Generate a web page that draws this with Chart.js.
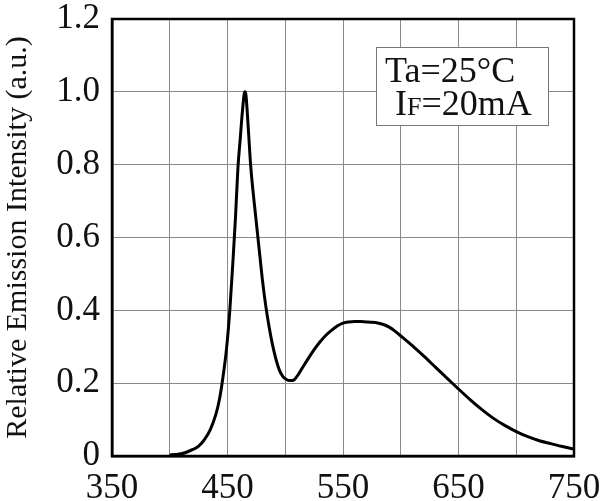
<!DOCTYPE html>
<html>
<head>
<meta charset="utf-8">
<script src="https://cdn.jsdelivr.net/npm/chart.js@4"></script>
<style>
  html, body { margin: 0; padding: 0; background: #fff; }
  #wrap { width: 606px; height: 501px; }
</style>
</head>
<body>
<div id="wrap"><canvas id="spectrum"></canvas></div>
<script>
// wavelength (nm) and relative intensity
const wavelengths = [400, 405, 410, 415, 420, 425, 430, 435, 440, 443, 446, 449, 452, 455, 457, 459, 461, 463, 465, 466, 468, 470, 472, 474, 476, 478, 480, 483, 486, 489, 492, 495, 498, 501, 504, 507, 510, 515, 520, 525, 530, 535, 540, 545, 550, 555, 560, 565, 570, 575, 580, 585, 590, 595, 600, 610, 620, 630, 640, 650, 660, 670, 680, 690, 700, 710, 720, 730, 740, 750];
const intensity = [0.003, 0.004, 0.006, 0.011, 0.018, 0.027, 0.045, 0.072, 0.115, 0.155, 0.215, 0.29, 0.40, 0.55, 0.66, 0.79, 0.87, 0.95, 1.0, 0.99, 0.9, 0.8, 0.73, 0.67, 0.61, 0.55, 0.49, 0.415, 0.355, 0.305, 0.265, 0.235, 0.218, 0.21, 0.207, 0.208, 0.218, 0.243, 0.268, 0.292, 0.313, 0.331, 0.345, 0.357, 0.365, 0.368, 0.369, 0.369, 0.368, 0.367, 0.365, 0.361, 0.354, 0.343, 0.33, 0.303, 0.274, 0.244, 0.214, 0.184, 0.155, 0.128, 0.104, 0.084, 0.067, 0.053, 0.042, 0.034, 0.026, 0.019];
const xTickLabels = [350, 450, 550, 650, 750];
const yTickLabels = ['0', '0.2', '0.4', '0.6', '0.8', '1.0', '1.2'];
const noteLines = ['Ta=25°C', 'IF=20mA'];

const serif = '"Liberation Serif", "DejaVu Serif", serif';

// frame round the plot and the condition box in the upper right
const framePlugin = {
    id: 'frame',
    afterDraw(chart) {
        const ctx = chart.ctx;
        const a = chart.chartArea;
        ctx.save();
        ctx.strokeStyle = '#000';
        ctx.lineWidth = 2.5;
        ctx.strokeRect(a.left, a.top, a.right - a.left, a.bottom - a.top);

        // condition box
        const bx = 376, by = 47, bw = 172, bh = 78;
        ctx.fillStyle = '#fff';
        ctx.fillRect(bx, by, bw, bh);
        ctx.strokeStyle = '#777';
        ctx.lineWidth = 1;
        ctx.strokeRect(bx + 0.5, by + 0.5, bw, bh);

        ctx.fillStyle = '#111';
        ctx.textBaseline = 'alphabetic';
        ctx.font = '36px ' + serif;
        ctx.fillText(noteLines[0], bx + 9, by + 35);
        // "I" normal size, "F" small, then the rest
        let x = bx + 19;
        const base = by + 68;
        ctx.fillText('I', x, base);
        x += ctx.measureText('I').width;
        ctx.font = '26px ' + serif;
        ctx.fillText('F', x, base);
        x += ctx.measureText('F').width;
        ctx.font = '36px ' + serif;
        ctx.fillText(noteLines[1].slice(2), x, base);
        ctx.restore();
    }
};

new Chart(document.getElementById('spectrum'), {
    type: 'line',
    data: {
        datasets: [{
            data: wavelengths.map((w, i) => ({ x: w, y: intensity[i] })),
            borderColor: '#000',
            borderWidth: 3,
            pointRadius: 0,
            cubicInterpolationMode: 'monotone',
            fill: false
        }]
    },
    options: {
        responsive: true,
        maintainAspectRatio: false,
        animation: false,
        layout: { padding: { top: 19, right: 32, left: 0, bottom: 0 } },
        plugins: {
            legend: { display: false },
            tooltip: { enabled: false }
        },
        scales: {
            x: {
                type: 'linear',
                min: 350,
                max: 750,
                afterFit: s => { s.height = 45; s.paddingLeft = 0; s.paddingRight = 0; },
                ticks: {
                    stepSize: 50,
                    autoSkip: false,
                    maxRotation: 0,
                    padding: 12,
                    color: '#111',
                    font: { family: serif, size: 35 },
                    callback: v => xTickLabels.includes(v) ? String(v) : ''
                },
                grid: { color: '#8a8a8a', lineWidth: 1, drawTicks: false },
                border: { color: '#000', width: 2.5 }
            },
            y: {
                min: 0,
                max: 1.2,
                afterFit: s => { s.width = 112; s.paddingTop = 0; s.paddingBottom = 0; },
                ticks: {
                    stepSize: 0.2,
                    padding: 12,
                    color: '#111',
                    font: { family: serif, size: 35 },
                    callback: v => yTickLabels[Math.round(v / 0.2)]
                },
                title: {
                    display: true,
                    text: 'Relative Emission Intensity (a.u.)',
                    color: '#111',
                    font: { family: serif, size: 30 },
                    padding: { top: 0, bottom: 2 }
                },
                grid: { color: '#8a8a8a', lineWidth: 1, drawTicks: false },
                border: { color: '#000', width: 2.5 }
            }
        }
    },
    plugins: [framePlugin]
});
</script>
</body>
</html>
